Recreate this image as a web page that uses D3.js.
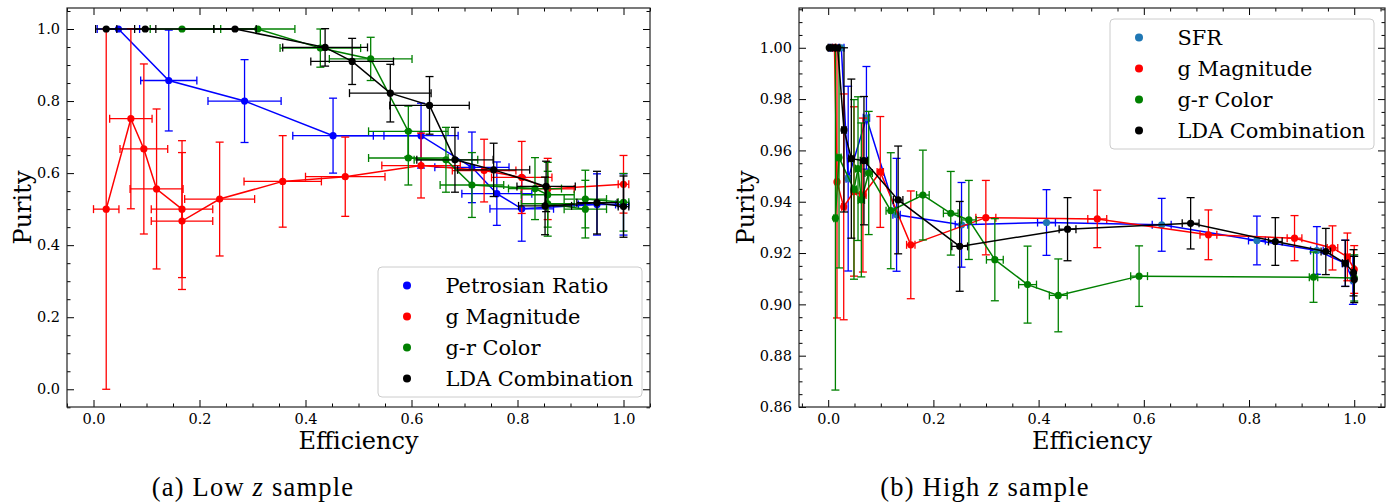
<!DOCTYPE html>
<html>
<head>
<meta charset="utf-8">
<script src="https://cdn.jsdelivr.net/npm/d3@7"></script>
<style>
  body { margin: 0; background: #fff; }
</style>
</head>
<body>
<div id="chart"></div>
<script>
// rows are [efficiency, purity, efficiency err, purity err]

// (a) low z
const lowPetrosian = [
  [0.047, 1.0, 0.04, 0], [0.142, 0.857, 0.053, 0.14], [0.285, 0.80, 0.069, 0.115],
  [0.452, 0.704, 0.076, 0.104], [0.618, 0.704, 0.07, 0.09], [0.714, 0.616, 0.07, 0.098],
  [0.761, 0.543, 0.066, 0.088], [0.808, 0.501, 0.06, 0.09], [0.95, 0.513, 0.035, 0.085],
  [1.0, 0.513, 0.01, 0.085]
];
const lowGMag = [
  [0.024, 0.5, 0.024, 0.5], [0.0705, 0.751, 0.04, 0.25], [0.095, 0.667, 0.045, 0.236],
  [0.119, 0.556, 0.05, 0.222], [0.167, 0.5, 0.058, 0.19], [0.167, 0.467, 0.058, 0.19],
  [0.238, 0.528, 0.066, 0.158], [0.357, 0.577, 0.073, 0.127], [0.475, 0.59, 0.075, 0.11],
  [0.618, 0.621, 0.074, 0.09], [0.737, 0.607, 0.06, 0.087], [0.808, 0.588, 0.057, 0.1],
  [0.857, 0.556, 0.05, 0.085], [1.0, 0.569, 0.01, 0.08]
];
const lowGRColor = [
  [0.167, 1.0, 0.06, 0], [0.31, 1.0, 0.07, 0], [0.428, 0.947, 0.076, 0.053],
  [0.523, 0.917, 0.078, 0.06], [0.594, 0.716, 0.075, 0.07], [0.594, 0.642, 0.075, 0.075],
  [0.665, 0.637, 0.06, 0.09], [0.714, 0.567, 0.06, 0.09], [0.833, 0.557, 0.05, 0.086],
  [0.857, 0.54, 0.05, 0.09], [0.857, 0.515, 0.05, 0.09], [0.928, 0.50, 0.04, 0.08],
  [0.928, 0.528, 0.04, 0.08], [1.0, 0.519, 0.01, 0.08]
];
const lowLDA = [
  [0.024, 1.0, 0.02, 0], [0.0976, 1.0, 0.02, 0], [0.267, 1.0, 0.04, 0],
  [0.437, 0.949, 0.08, 0.052], [0.488, 0.91, 0.078, 0.064], [0.56, 0.822, 0.077, 0.08],
  [0.634, 0.788, 0.075, 0.08], [0.682, 0.637, 0.072, 0.09], [0.755, 0.609, 0.068, 0.074],
  [0.854, 0.563, 0.055, 0.07], [0.852, 0.509, 0.05, 0.08], [0.95, 0.518, 0.038, 0.087],
  [1.0, 0.507, 0.01, 0.085]
];

// (b) high z
const highSFR = [
  [0.005, 1.0, 0.003, 0], [0.025, 1.0, 0.005, 0], [0.038, 0.949, 0.004, 0.036],
  [0.0727, 0.9727, 0.006, 0.02], [0.13, 0.9349, 0.007, 0.022], [0.2535, 0.931, 0.012, 0.0165],
  [0.415, 0.9319, 0.017, 0.0128], [0.634, 0.931, 0.018, 0.0103], [0.815, 0.9249, 0.016, 0.0095],
  [0.929, 0.921, 0.012, 0.0093], [0.983, 0.916, 0.006, 0.009], [0.9975, 0.9094, 0.003, 0.0094]
];
const highGMag = [
  [0.012, 1.0, 0.003, 0], [0.0167, 0.9477, 0.003, 0.053], [0.0295, 0.938, 0.004, 0.044],
  [0.049, 0.944, 0.005, 0.033], [0.066, 0.9426, 0.006, 0.03], [0.099, 0.9516, 0.006, 0.0216],
  [0.157, 0.9232, 0.008, 0.021], [0.2997, 0.9338, 0.019, 0.0145], [0.5115, 0.9333, 0.018, 0.0112],
  [0.7228, 0.9271, 0.016, 0.0097], [0.8865, 0.9258, 0.014, 0.0088], [0.9587, 0.922, 0.01, 0.0086],
  [0.987, 0.9185, 0.005, 0.0093], [1.0, 0.9136, 0.002, 0.0093]
];
const highGRColor = [
  [0.0137, 0.9336, 0.003, 0.067], [0.0206, 0.9572, 0.004, 0.043], [0.049, 0.9448, 0.005, 0.035],
  [0.0567, 0.9529, 0.005, 0.028], [0.063, 0.9407, 0.006, 0.03], [0.077, 0.9512, 0.007, 0.024],
  [0.119, 0.9365, 0.009, 0.0226], [0.180, 0.9426, 0.012, 0.0175], [0.233, 0.9355, 0.014, 0.0163],
  [0.2674, 0.9329, 0.014, 0.0154], [0.3168, 0.9174, 0.016, 0.016], [0.379, 0.9077, 0.017, 0.015],
  [0.4374, 0.9035, 0.017, 0.0142], [0.591, 0.911, 0.016, 0.0118], [0.9226, 0.9106, 0.008, 0.0098],
  [1.0, 0.9103, 0.002, 0.009]
];
const highLDA = [
  [0.002, 1.0, 0.002, 0], [0.01, 1.0, 0.003, 0], [0.018, 1.0, 0.004, 0],
  [0.030, 0.968, 0.004, 0.032], [0.044, 0.9568, 0.005, 0.031], [0.068, 0.956, 0.007, 0.025],
  [0.133, 0.9407, 0.009, 0.021], [0.25, 0.9226, 0.015, 0.0175], [0.455, 0.9293, 0.016, 0.0123],
  [0.689, 0.9316, 0.016, 0.01], [0.85, 0.9245, 0.013, 0.0093], [0.946, 0.9206, 0.009, 0.009],
  [0.983, 0.916, 0.005, 0.009], [0.9987, 0.9123, 0.002, 0.009], [1.0, 0.9097, 0.001, 0.009]
];

const lowNames = ["Petrosian Ratio", "g Magnitude", "g-r Color", "LDA Combination"];
const highNames = ["SFR", "g Magnitude", "g-r Color", "LDA Combination"];

// tick values
const effTicks = [0.0, 0.2, 0.4, 0.6, 0.8, 1.0];
const effMinor = d3.range(-1, 22).map(i => i * 0.05).filter((d, i) => (i - 1) % 4 != 0);
const lowPurTicks = [0.0, 0.2, 0.4, 0.6, 0.8, 1.0];
const lowPurMinor = d3.range(-1, 22).map(i => i * 0.05).filter((d, i) => (i - 1) % 4 != 0);
const highPurTicks = [0.86, 0.88, 0.90, 0.92, 0.94, 0.96, 0.98, 1.00];
const highPurMinor = d3.range(172, 204).map(i => i * 0.005).filter((d, i) => i % 4 != 0);

const lineColors = ["blue", "red", "green", "black"];
const SERIF = "'DejaVu Serif', serif";

const W = 1395, H = 502;
let svg = d3.select("#chart").append("svg").attr("width", W).attr("height", H);

let panels = [
  {
    id: "a", left: 67, right: 650, top: 8, bottom: 407,
    xDomain: [-0.05, 1.05], yDomain: [-0.0492, 1.0583],
    yTicks: lowPurTicks, yMinor: lowPurMinor, yFormat: d3.format(".1f"),
    series: [lowPetrosian, lowGMag, lowGRColor, lowLDA], names: lowNames,
    markerColors: ["blue", "red", "green", "black"],
    legend: {x: 378, y: 267, w: 264, h: 130},
    ylabelX: 31, caption: "(a) Low ", captionEnd: " sample", captionX: 253
  },
  {
    id: "b", left: 799, right: 1385, top: 8, bottom: 407,
    xDomain: [-0.0555, 1.0585], yDomain: [0.86, 1.0155],
    yTicks: highPurTicks, yMinor: highPurMinor, yFormat: d3.format(".2f"),
    series: [highSFR, highGMag, highGRColor, highLDA], names: highNames,
    markerColors: ["#1f77b4", "red", "green", "black"],
    legend: {x: 1110, y: 19, w: 264, h: 130},
    ylabelX: 754, caption: "(b) High ", captionEnd: " sample", captionX: 985
  }
];

panels.forEach(makePanel);

function makePanel(p) {
  let x = d3.scaleLinear().domain(p.xDomain).range([p.left, p.right]);
  let y = d3.scaleLinear().domain(p.yDomain).range([p.bottom, p.top]);

  svg.append("clipPath").attr("id", "clip" + p.id)
    .append("rect")
    .attr("x", p.left).attr("y", p.top)
    .attr("width", p.right - p.left).attr("height", p.bottom - p.top);

  let plot = svg.append("g").attr("clip-path", `url(#clip${p.id})`);
  p.series.forEach(function(rows, i) {
    drawSeries(plot, x, y, rows, lineColors[i], p.markerColors[i]);
  });

  // ticks point inward on all four sides
  let axes = svg.append("g");
  let tickAxis = function(maker, scale, vals, size, tr, fmt) {
    let a = maker(scale).tickValues(vals).tickSize(-size).tickPadding(7)
      .tickFormat(fmt ? fmt : "");
    axes.append("g")
      .attr("transform", tr)
      .style("color", "#000")
      .call(a)
      .call(g => g.select(".domain").remove())
      .call(g => g.selectAll("text")
        .style("font-family", SERIF)
        .style("font-size", "14.5px"));
  };
  tickAxis(d3.axisBottom, x, effTicks, 7, `translate(0,${p.bottom})`, d3.format(".1f"));
  tickAxis(d3.axisBottom, x, effMinor, 3.5, `translate(0,${p.bottom})`);
  tickAxis(d3.axisTop, x, effTicks, 7, `translate(0,${p.top})`);
  tickAxis(d3.axisTop, x, effMinor, 3.5, `translate(0,${p.top})`);
  tickAxis(d3.axisLeft, y, p.yTicks, 7, `translate(${p.left},0)`, p.yFormat);
  tickAxis(d3.axisLeft, y, p.yMinor, 3.5, `translate(${p.left},0)`);
  tickAxis(d3.axisRight, y, p.yTicks, 7, `translate(${p.right},0)`);
  tickAxis(d3.axisRight, y, p.yMinor, 3.5, `translate(${p.right},0)`);

  svg.append("rect")
    .attr("x", p.left).attr("y", p.top)
    .attr("width", p.right - p.left).attr("height", p.bottom - p.top)
    .attr("fill", "none").attr("stroke", "#222").attr("stroke-width", 1.2);

  // legend
  let lg = svg.append("g").attr("transform", `translate(${p.legend.x},${p.legend.y})`);
  lg.append("rect")
    .attr("width", p.legend.w).attr("height", p.legend.h).attr("rx", 4)
    .attr("fill", "white").attr("fill-opacity", 0.8)
    .attr("stroke", "#cccccc").attr("stroke-width", 1);
  let items = lg.selectAll(".item").data(p.names).enter().append("g")
    .attr("transform", (d, i) => `translate(0,${18.5 + i * 31})`);
  items.append("circle").attr("cx", 29).attr("r", 4)
    .attr("fill", (d, i) => p.markerColors[i]);
  items.append("text").attr("x", 67.5).attr("y", 7.6)
    .style("font-family", SERIF)
    .style("font-size", "20.9px").text(d => d);

  // axis labels
  svg.append("text")
    .attr("x", (p.left + p.right) / 2).attr("y", 449)
    .attr("text-anchor", "middle")
    .style("font-family", SERIF).style("font-size", "24px")
    .text("Efficiency");
  svg.append("text")
    .attr("transform", `translate(${p.ylabelX},${(p.top + p.bottom) / 2}) rotate(-90)`)
    .attr("text-anchor", "middle")
    .style("font-family", SERIF).style("font-size", "24px")
    .text("Purity");

  let cap = svg.append("text")
    .attr("x", p.captionX).attr("y", 496)
    .attr("text-anchor", "middle")
    .style("font-family", "'Liberation Serif', serif")
    .style("font-size", "26.5px")
    .style("letter-spacing", "1.2px");
  cap.append("tspan").text(p.caption);
  cap.append("tspan").style("font-style", "italic").text("z");
  cap.append("tspan").text(p.captionEnd);
}

function drawSeries(g, x, y, rows, color, markerColor) {
  let s = g.append("g");
  let cw = 4;
  let yb = rows.filter(d => d[3] > 0);
  let xb = rows.filter(d => d[2] > 0);

  // purity error bars
  s.selectAll(".ye").data(yb).enter().append("line")
    .attr("x1", d => x(d[0])).attr("x2", d => x(d[0]))
    .attr("y1", d => y(d[1] - d[3])).attr("y2", d => y(d[1] + d[3]))
    .attr("stroke", color).attr("stroke-width", 1.3);
  [-1, 1].forEach(function(sg) {
    s.selectAll(null).data(yb).enter().append("line")
      .attr("x1", d => x(d[0]) - cw).attr("x2", d => x(d[0]) + cw)
      .attr("y1", d => y(d[1] + sg * d[3])).attr("y2", d => y(d[1] + sg * d[3]))
      .attr("stroke", color).attr("stroke-width", 1.3);
    s.selectAll(null).data(xb).enter().append("line")
      .attr("x1", d => x(d[0] + sg * d[2])).attr("x2", d => x(d[0] + sg * d[2]))
      .attr("y1", d => y(d[1]) - cw).attr("y2", d => y(d[1]) + cw)
      .attr("stroke", color).attr("stroke-width", 1.3);
  });

  // efficiency error bars
  s.selectAll(".xe").data(xb).enter().append("line")
    .attr("x1", d => x(d[0] - d[2])).attr("x2", d => x(d[0] + d[2]))
    .attr("y1", d => y(d[1])).attr("y2", d => y(d[1]))
    .attr("stroke", color).attr("stroke-width", 1.3);

  s.append("path")
    .datum(rows)
    .attr("fill", "none")
    .attr("stroke", color)
    .attr("stroke-width", 1.5)
    .attr("d", d3.line().x(d => x(d[0])).y(d => y(d[1])));

  s.selectAll("circle").data(rows).enter().append("circle")
    .attr("cx", d => x(d[0])).attr("cy", d => y(d[1]))
    .attr("r", 3.6)
    .attr("fill", markerColor);
}
</script>
</body>
</html>
